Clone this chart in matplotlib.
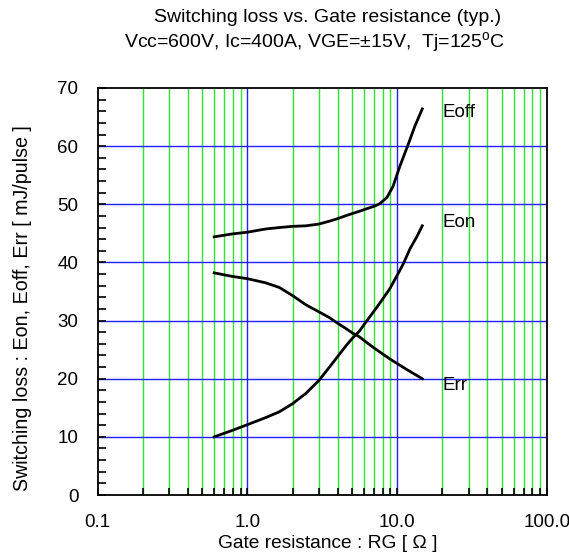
import matplotlib
matplotlib.use('Agg')
import matplotlib.pyplot as plt
from matplotlib.ticker import FixedLocator, NullFormatter

plt.rcParams['font.family'] = ['Liberation Sans', 'DejaVu Sans']
plt.rcParams['mathtext.fontset'] = 'custom'
plt.rcParams['mathtext.rm'] = 'Liberation Sans'

# curves (RG in ohm, loss in mJ/pulse)
eon_rg = [0.6, 0.79, 1.0, 1.32, 1.63, 2.0, 2.46, 3.0, 3.53, 3.97, 4.56, 5.0, 5.6,
          6.2, 7.08, 8.05, 8.93, 10.0, 11.0, 12.2, 13.5, 14.7]
eon = [10.0, 11.1, 12.1, 13.3, 14.3, 15.7, 17.5, 19.7, 22.0, 23.7, 25.7, 26.9, 28.2,
       29.8, 31.8, 33.8, 35.5, 37.8, 39.8, 42.4, 44.4, 46.3]

eoff_rg = [0.6, 0.79, 1.0, 1.32, 1.63, 2.0, 2.46, 3.0, 3.53, 3.97, 4.56, 5.0, 5.6,
           6.2, 7.08, 7.65, 8.55, 9.38, 10.4, 11.8, 13.1, 14.7]
eoff = [44.4, 44.9, 45.2, 45.75, 46.0, 46.2, 46.3, 46.6, 47.1, 47.5, 48.05, 48.4, 48.8,
        49.2, 49.7, 50.1, 51.2, 53.1, 56.5, 60.2, 63.4, 66.4]

err_rg = [0.6, 0.79, 1.0, 1.32, 1.63, 2.0, 2.46, 3.0, 3.53, 3.97, 4.56, 5.0, 5.6,
          6.2, 7.08, 8.05, 8.93, 10.0, 11.55, 14.7]
err = [38.2, 37.6, 37.2, 36.5, 35.7, 34.3, 32.7, 31.5, 30.5, 29.6, 28.6, 27.9, 27.2,
       26.3, 25.2, 24.2, 23.4, 22.6, 21.6, 20.0]

x_ticks = [0.1, 1.0, 10.0, 100.0]
x_ticklabels = ['0.1', '1.0', '10.0', '100.0']

fig = plt.figure(figsize=(5.69, 5.58), dpi=100)
ax = fig.add_axes([0.1717, 0.1129, 0.9613 - 0.1717, 0.8423 - 0.1129])
ax.set_xscale('log')
ax.set_xlim(0.1, 100)
ax.set_ylim(0, 70)

# grid: green on minor decades, blue on majors and horizontals
minors = [m * d for d in (0.1, 1, 10) for m in range(2, 10)]
for v in minors:
    ax.axvline(v, color='#2ee82e', lw=1.0, zorder=1)
for v in (1.0, 10.0):
    ax.axvline(v, color='#2020ff', lw=1.0, zorder=1)
for v in range(10, 70, 10):
    ax.axhline(v, color='#2020ff', lw=1.0, zorder=1)

ax.plot(eoff_rg, eoff, color='black', lw=2, zorder=3)
ax.plot(eon_rg, eon, color='black', lw=2, zorder=3)
ax.plot(err_rg, err, color='black', lw=2, zorder=3)

ax.text(20, 65.8, 'Eoff', fontsize=13.5, va='center', ha='left')
ax.text(20, 46.8, 'Eon', fontsize=13.5, va='center', ha='left')
ax.text(20, 18.9, 'Err', fontsize=13.5, va='center', ha='left')

ax.xaxis.set_major_locator(FixedLocator(x_ticks))
ax.set_xticklabels(x_ticklabels)
ax.xaxis.set_minor_locator(FixedLocator(minors))
ax.xaxis.set_minor_formatter(NullFormatter())
ax.set_yticks(range(0, 71, 10))
ax.yaxis.set_minor_locator(FixedLocator(range(0, 71, 2)))
ax.tick_params(which='both', direction='in', top=False, right=False,
               labelsize=13.5, width=1.2)
ax.tick_params(axis='y', which='both', length=6, pad=14)
ax.tick_params(axis='x', which='both', length=5, pad=14)
for s in ax.spines.values():
    s.set_linewidth(1.3)
    s.set_zorder(4)

fig.text(0.5756, 0.026, 'Gate resistance : RG [ Ω ]', fontsize=13.8,
         ha='center', va='center')
fig.text(0.0387, 0.447, 'Switching loss : Eon, Eoff, Err [ mJ/pulse ]', fontsize=14.1,
         rotation=90, ha='center', va='center')

fig.text(0.5756, 0.9695, 'Switching loss vs. Gate resistance (typ.)',
         fontsize=14, ha='center', va='center')
fig.text(0.5527, 0.923, r'Vcc=600V, Ic=400A, VGE=±15V,  Tj=125$^{\mathrm{o}}$C',
         fontsize=14, ha='center', va='center')

plt.savefig('out.png')
